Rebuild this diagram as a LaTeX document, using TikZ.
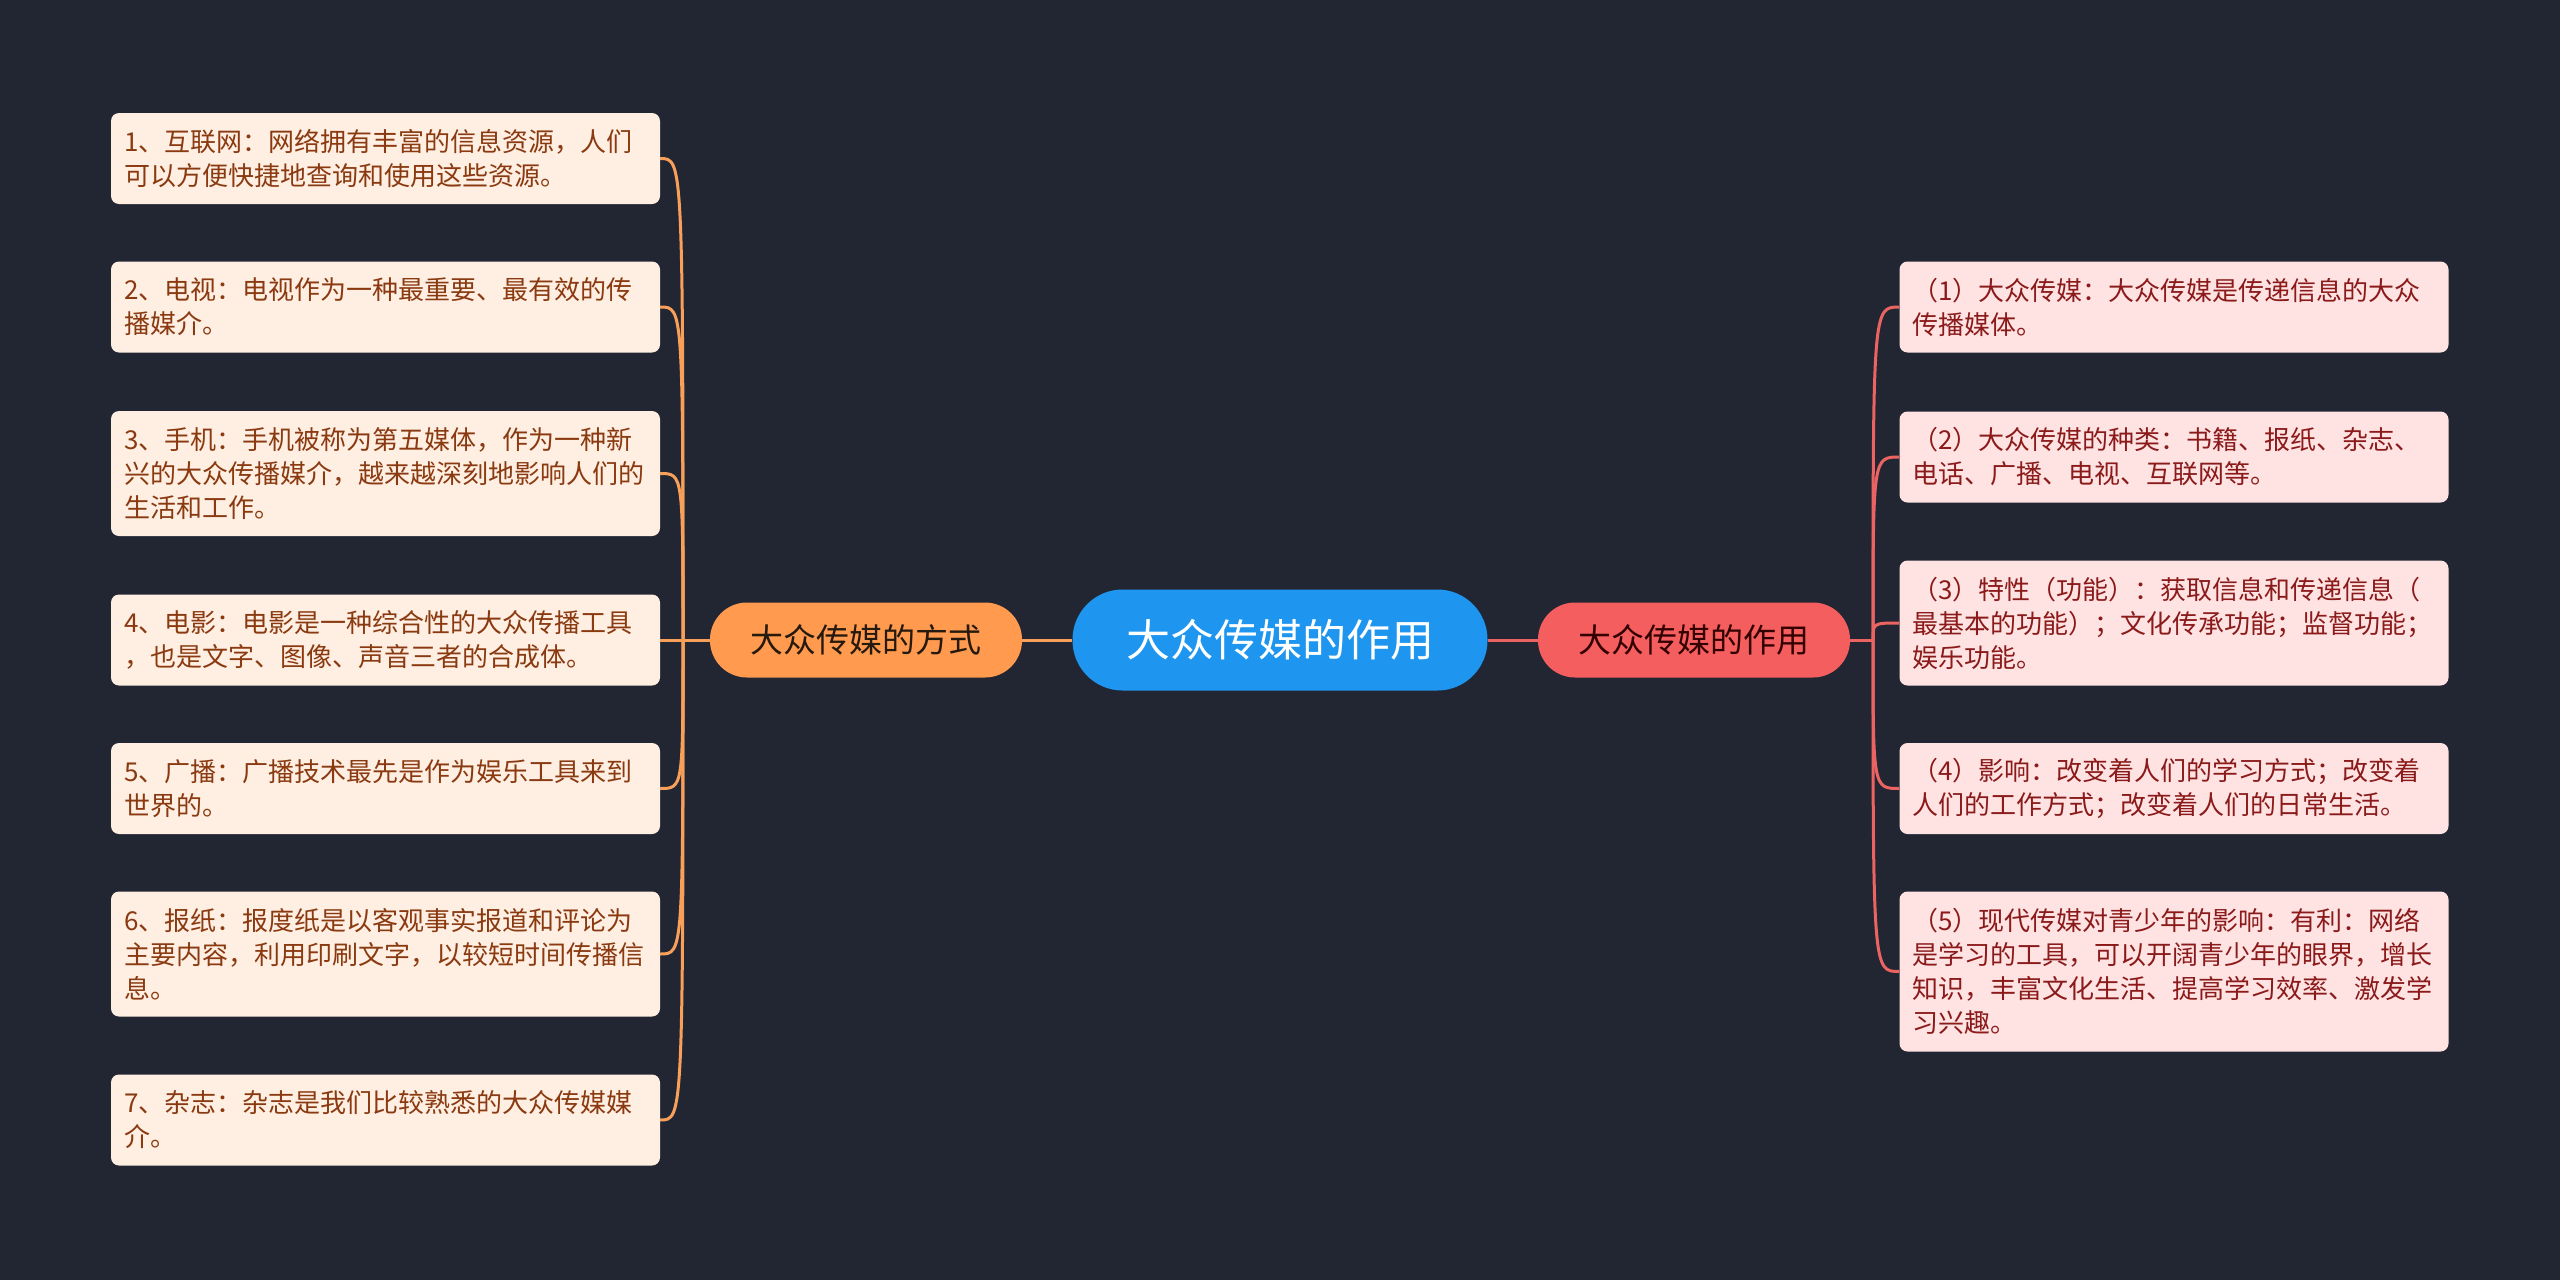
\documentclass[tikz,border=0pt]{standalone}
\usepackage{fontspec}
\setmainfont{Noto Sans CJK SC}
\definecolor{bg}{HTML}{222532}
\definecolor{lfill}{HTML}{FFEEE2}
\definecolor{ltext}{HTML}{8A3A10}
\definecolor{rfill}{HTML}{FFE3E3}
\definecolor{rtext}{HTML}{8B1A1A}
\definecolor{orangeb}{HTML}{FF9A4F}
\definecolor{redb}{HTML}{F45E5E}
\definecolor{cblue}{HTML}{1E96F0}
\definecolor{oline}{HTML}{F8A05A}
\definecolor{rline}{HTML}{EC6462}
\begin{document}
\begin{tikzpicture}[x=1pt,y=-1pt,
  leafL/.style={rounded corners=8pt, fill=lfill, text=ltext, text width=523pt, align=left,
    inner xsep=13pt, inner ysep=0pt, font=\fontsize{26pt}{34pt}\selectfont},
  leafR/.style={leafL, fill=rfill, text=rtext},
  branchbox/.style={rounded corners=37pt, minimum width=312pt, minimum height=75pt,
    inner sep=0pt, font=\fontsize{33pt}{38pt}\selectfont},
  oconn/.style={draw=oline, line width=3pt},
  rconn/.style={draw=rline, line width=3pt}]
\useasboundingbox[fill=bg] (0,0) rectangle (2560,1280);

% center
\node[rounded corners=50pt, fill=cblue, text=white, minimum width=415pt, minimum height=101pt,
  inner sep=0pt, font=\fontsize{44pt}{50pt}\selectfont] (c) at (1280,640) {大众传媒的作用};

% branches
\node[branchbox, fill=orangeb, text={black!80!brown}] (lb) at (866,640) {大众传媒的方式};
\node[branchbox, fill=redb, text={black!80!red}] (rb) at (1694,640) {大众传媒的作用};

% left leaves
\node[leafL, minimum height=91pt] (l1) at (385.5,158.5) {1、互联网：网络拥有丰富的信息资源，人们\\可以方便快捷地查询和使用这些资源。};
\node[leafL, minimum height=91pt] (l2) at (385.5,307) {2、电视：电视作为一种最重要、最有效的传\\播媒介。};
\node[leafL, minimum height=125pt] (l3) at (385.5,473.5) {3、手机：手机被称为第五媒体，作为一种新\\兴的大众传播媒介，越来越深刻地影响人们的\\生活和工作。};
\node[leafL, minimum height=91pt] (l4) at (385.5,640) {4、电影：电影是一种综合性的大众传播工具\\，也是文字、图像、声音三者的合成体。};
\node[leafL, minimum height=91pt] (l5) at (385.5,788.5) {5、广播：广播技术最先是作为娱乐工具来到\\世界的。};
\node[leafL, minimum height=125pt] (l6) at (385.5,954) {6、报纸：报度纸是以客观事实报道和评论为\\主要内容，利用印刷文字，以较短时间传播信\\息。};
\node[leafL, minimum height=91pt] (l7) at (385.5,1120) {7、杂志：杂志是我们比较熟悉的大众传媒媒\\介。};

% right leaves
\node[leafR, minimum height=91pt] (r1) at (2174,307) {（1）大众传媒：大众传媒是传递信息的大众\\传播媒体。};
\node[leafR, minimum height=91pt] (r2) at (2174,457) {（2）大众传媒的种类：书籍、报纸、杂志、\\电话、广播、电视、互联网等。};
\node[leafR, minimum height=125pt] (r3) at (2174,623) {（3）特性（功能）：获取信息和传递信息（\\最基本的功能）；文化传承功能；监督功能；\\娱乐功能。};
\node[leafR, minimum height=91pt] (r4) at (2174,788.5) {（4）影响：改变着人们的学习方式；改变着\\人们的工作方式；改变着人们的日常生活。};
\node[leafR, minimum height=160pt] (r5) at (2174,971.5) {（5）现代传媒对青少年的影响：有利：网络\\是学习的工具，可以开阔青少年的眼界，增长\\知识，丰富文化生活、提高学习效率、激发学\\习兴趣。};

% trunk points
\coordinate (lt) at (683,640);
\coordinate (rt) at (1873,640);

% connectors
\draw[oconn] (c.west) -- (lb.east);
\draw[rconn] (c.east) -- (rb.west);
\draw[oconn] (lb.west) -- (lt);
\draw[rconn] (rb.east) -- (rt);
\foreach \n in {l1,l2,l3,l5,l6,l7}{
  \draw[oconn] (lt) .. controls (lt |- \n.east) and (lt |- \n.east) .. (\n.east);
}
\draw[oconn] (lt) -- (l4.east);
\foreach \n in {r1,r2,r3,r4,r5}{
  \draw[rconn] (rt) .. controls (rt |- \n.west) and (rt |- \n.west) .. (\n.west);
}
\end{tikzpicture}
\end{document}
